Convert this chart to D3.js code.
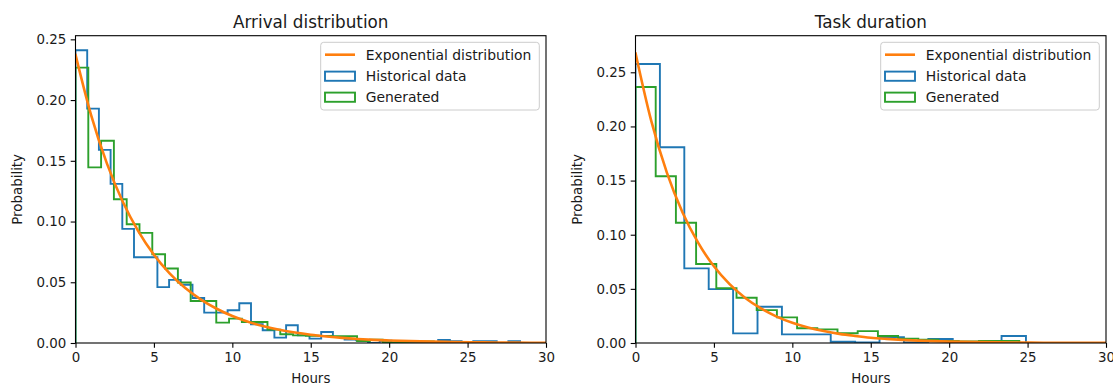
<!DOCTYPE html>
<html>
<head>
<meta charset="utf-8">
<script src="https://cdn.jsdelivr.net/npm/d3@7/dist/d3.min.js"></script>
<style>
  html, body { margin: 0; padding: 0; background: #fff; }
  svg { display: block; font-family: "DejaVu Sans", sans-serif; }
</style>
</head>
<body>
<svg id="chart" width="1113" height="385"></svg>
<script>
// ---- Data -------------------------------------------------------------
const xTicks = [0, 5, 10, 15, 20, 25, 30];
const yTicks = [0, 0.05, 0.10, 0.15, 0.20, 0.25];

// Arrival distribution: histogram densities (bin widths in hours)
const arrivalHistBinWidth = 0.746;
const arrivalHistorical = [
  0.241, 0.193, 0.159, 0.131, 0.094, 0.0706, 0.0706, 0.046, 0.052, 0.048,
  0.037, 0.025, 0.025, 0.027, 0.0327, 0.0154, 0.0105, 0.0044, 0.0146, 0.0063,
  0.0036, 0.009, 0.005, 0.0028, 0.0023, 0.0, 0.0018, 0.0, 0.0, 0.0,
  0.0, 0.0025, 0.0015, 0.0, 0.0015, 0.0015, 0.0, 0.0015
];
const arrivalGenBinWidth = 0.816;
const arrivalGenerated = [
  0.2267, 0.1446, 0.1665, 0.1184, 0.0978, 0.0907, 0.0731, 0.0613, 0.0498, 0.0346,
  0.0346, 0.0168, 0.0201, 0.0173, 0.0173, 0.011, 0.0072, 0.0063, 0.006, 0.0058,
  0.0055, 0.0055, 0.0016, 0.0028, 0.0005, 0.0005, 0.0012, 0.0012, 0.0008, 0.0,
  0.0, 0.0, 0.0, 0.0, 0.0, 0.0, 0.0, 0.0, 0.0
];
// Fitted exponential density, sampled at hourly points
const arrivalCurveHours = [0,1,2,3,4,5,6,7,8,9,10,11,12,13,14,15,16,17,18,19,20,22,24,26,28,30];
const arrivalCurve = [
  0.2375, 0.1874, 0.1479, 0.1167, 0.0921, 0.0727, 0.0573, 0.0452, 0.0357, 0.0282,
  0.0222, 0.0175, 0.0138, 0.0109, 0.0086, 0.0068, 0.0054, 0.0042, 0.0033, 0.0026,
  0.0021, 0.0013, 0.0008, 0.0005, 0.0003, 0.0002
];

// Task duration: histogram densities (bin widths in hours)
const durationHistBinWidth = 1.556;
const durationHistorical = [
  0.2577, 0.1808, 0.0689, 0.0498, 0.0089, 0.0335, 0.008, 0.008, 0.0012, 0.0005,
  0.0053, 0.0005, 0.0037, 0.0, 0.0, 0.0065
];
const durationGenBinWidth = 1.288;
const durationGenerated = [
  0.2364, 0.154, 0.111, 0.0729, 0.0505, 0.0418, 0.0304, 0.0237, 0.0136, 0.0126,
  0.009, 0.011, 0.0065, 0.004, 0.003, 0.002, 0.0015, 0.002, 0.002, 0.0
];
const durationCurveHours = [0,1,2,3,4,5,6,7,8,9,10,11,12,13,14,15,16,17,18,19,20,22,24,26,28,30];
const durationCurve = [
  0.2678, 0.2053, 0.1573, 0.1205, 0.0924, 0.0708, 0.0543, 0.0416, 0.0319, 0.0244,
  0.0187, 0.0143, 0.011, 0.0084, 0.0065, 0.0049, 0.0038, 0.0029, 0.0022, 0.0017,
  0.0013, 0.0008, 0.0005, 0.0003, 0.0002, 0.0001
];

const legendLabels = ["Exponential distribution", "Historical data", "Generated"];

// ---- Drawing ----------------------------------------------------------
const COLORS = { curve: "#ff7f0e", hist: "#1f77b4", gen: "#2ca02c" };
const TEXT = "#1a1a1a";
const svg = d3.select("#chart");

function stepPoints(heights, width) {
  const pts = [[0, 0]];
  heights.forEach((h, i) => {
    pts.push([i * width, h]);
    pts.push([(i + 1) * width, h]);
  });
  pts.push([heights.length * width, 0]);
  return pts;
}

function drawPanel(opt) {
  const { left, right, top, bottom, yMax, title, id } = opt;
  const x = d3.scaleLinear().domain([0, 30]).range([left, right]);
  const y = d3.scaleLinear().domain([0, yMax]).range([bottom, top]);
  const g = svg.append("g");

  g.append("clipPath").attr("id", id)
    .append("rect").attr("x", left).attr("y", top)
    .attr("width", right - left).attr("height", bottom - top);

  const plot = g.append("g").attr("clip-path", `url(#${id})`);
  const line = d3.line().x(d => x(d[0])).y(d => y(d[1]));

  plot.append("path")
    .attr("d", line(stepPoints(opt.hist, opt.histWidth)))
    .attr("fill", "none").attr("stroke", COLORS.hist)
    .attr("stroke-width", 1.9).attr("stroke-linejoin", "miter");
  plot.append("path")
    .attr("d", line(stepPoints(opt.gen, opt.genWidth)))
    .attr("fill", "none").attr("stroke", COLORS.gen)
    .attr("stroke-width", 1.9).attr("stroke-linejoin", "miter");

  const curveLine = d3.line().x(d => x(d[0])).y(d => y(d[1])).curve(d3.curveMonotoneX);
  plot.append("path")
    .attr("d", curveLine(opt.curveX.map((h, i) => [h, opt.curveY[i]])))
    .attr("fill", "none").attr("stroke", COLORS.curve)
    .attr("stroke-width", 2.6).attr("stroke-linecap", "round");

  // axes
  const xAxis = d3.axisBottom(x).tickValues(xTicks).tickSize(4.8).tickPadding(4.5)
    .tickFormat(d3.format("d"));
  const yAxis = d3.axisLeft(y).tickValues(yTicks).tickSize(4.8).tickPadding(4.5)
    .tickFormat(d3.format(".2f"));

  const gx = g.append("g").attr("transform", `translate(0,${bottom})`).call(xAxis);
  const gy = g.append("g").attr("transform", `translate(${left},0)`).call(yAxis);
  [gx, gy].forEach(ax => {
    ax.select(".domain").remove();
    ax.selectAll(".tick line").attr("stroke", "#000").attr("stroke-width", 1.1);
    ax.selectAll(".tick text").attr("fill", TEXT)
      .style("font-size", "13.4px").style("font-family", "DejaVu Sans");
  });

  // frame
  g.append("rect").attr("x", left).attr("y", top)
    .attr("width", right - left).attr("height", bottom - top)
    .attr("fill", "none").attr("stroke", "#000").attr("stroke-width", 1.1);

  // title and axis labels
  g.append("text").attr("x", (left + right) / 2).attr("y", 27.5)
    .attr("text-anchor", "middle").style("font-size", "16.8px")
    .attr("fill", TEXT).text(title);
  g.append("text").attr("x", (left + right) / 2).attr("y", 383)
    .attr("text-anchor", "middle").style("font-size", "13.4px")
    .attr("fill", TEXT).text("Hours");
  g.append("text")
    .attr("transform", `translate(${left - 53.5},${(top + bottom) / 2}) rotate(-90)`)
    .attr("text-anchor", "middle").style("font-size", "13.4px")
    .attr("fill", TEXT).text("Probability");

  // legend
  const lgRight = right - 6.7, lgW = 218.6, lgLeft = lgRight - lgW;
  const lg = g.append("g");
  lg.append("rect").attr("x", lgLeft).attr("y", 42.3)
    .attr("width", lgW).attr("height", 67.7).attr("rx", 3)
    .attr("fill", "#fff").attr("fill-opacity", 0.8)
    .attr("stroke", "#ccc").attr("stroke-width", 1);
  const rowsY = [54.7, 76.2, 97.2];
  const sx = lgLeft + 4.3;
  lg.append("line").attr("x1", sx).attr("x2", sx + 30)
    .attr("y1", rowsY[0]).attr("y2", rowsY[0])
    .attr("stroke", COLORS.curve).attr("stroke-width", 2.6);
  [COLORS.hist, COLORS.gen].forEach((c, i) => {
    lg.append("rect").attr("x", sx).attr("y", rowsY[i + 1] - 4.6)
      .attr("width", 30).attr("height", 9.2)
      .attr("fill", "none").attr("stroke", c).attr("stroke-width", 1.9);
  });
  legendLabels.forEach((t, i) => {
    lg.append("text").attr("x", lgLeft + 45).attr("y", rowsY[i] + 4.9)
      .style("font-size", "13.9px").attr("fill", TEXT).text(t);
  });
}

drawPanel({
  id: "clipA", left: 75.5, right: 546, top: 35.7, bottom: 343, yMax: 0.2530,
  title: "Arrival distribution",
  hist: arrivalHistorical, histWidth: arrivalHistBinWidth,
  gen: arrivalGenerated, genWidth: arrivalGenBinWidth,
  curveX: arrivalCurveHours, curveY: arrivalCurve
});
drawPanel({
  id: "clipB", left: 635.5, right: 1106, top: 35.7, bottom: 343, yMax: 0.2838,
  title: "Task duration",
  hist: durationHistorical, histWidth: durationHistBinWidth,
  gen: durationGenerated, genWidth: durationGenBinWidth,
  curveX: durationCurveHours, curveY: durationCurve
});
</script>
</body>
</html>
